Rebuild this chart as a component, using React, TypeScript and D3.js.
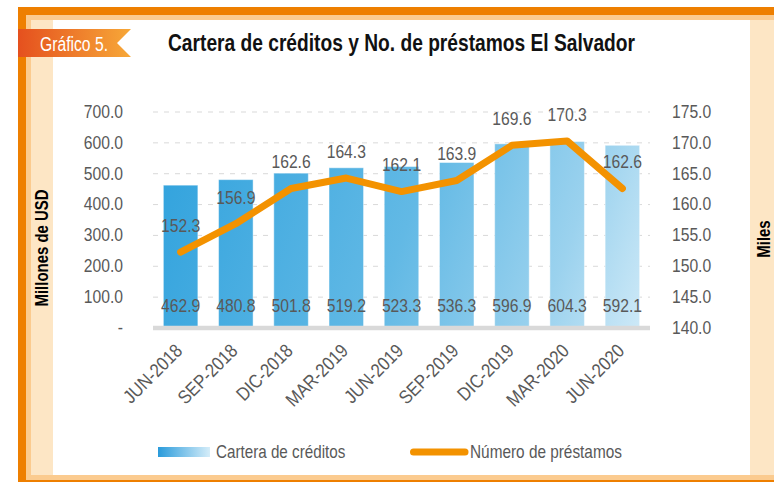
import React from "react";
import * as d3 from "d3";

const categories = ["JUN-2018", "SEP-2018", "DIC-2018", "MAR-2019", "JUN-2019", "SEP-2019", "DIC-2019", "MAR-2020", "JUN-2020"];
const cartera = [462.9, 480.8, 501.8, 519.2, 523.3, 536.3, 596.9, 604.3, 592.1];
const prestamos = [152.3, 156.9, 162.6, 164.3, 162.1, 163.9, 169.6, 170.3, 162.6];
const leftTicks = [0, 100, 200, 300, 400, 500, 600, 700];
const rightTicks = [140, 145, 150, 155, 160, 165, 170, 175];

const W = 774;
const H = 482;
const FONT = "'Liberation Sans', Arial, sans-serif";
const GRAY = "#595959";
const ORANGE = "#F39200";
const NARROW = 0.85;

type TProps = {
  x: number;
  y: number;
  rot?: number;
  sx?: number;
  children: React.ReactNode;
  [k: string]: any;
};

function T({ x, y, rot = 0, sx = NARROW, children, ...rest }: TProps) {
  return (
    <text transform={`translate(${x},${y}) rotate(${rot}) scale(${sx},1)`} {...rest}>
      {children}
    </text>
  );
}

export default function App() {
  const x = d3.scaleBand<string>().domain(categories).range([153, 650]).paddingInner(0.375).paddingOuter(0.1875);
  const yL = d3.scaleLinear().domain([0, 700]).range([328, 112]);
  const yR = d3.scaleLinear().domain([140, 175]).range([328, 112]);
  const fmt = d3.format(".1f");
  const cx = (c: string) => (x(c) as number) + x.bandwidth() / 2;
  const line = d3
    .line<number>()
    .x((_, i) => cx(categories[i]))
    .y((d) => yR(d));

  return (
    <svg width={W} height={H} style={{ position: "absolute", left: 0, top: 0 }} fontFamily={FONT}>
      <defs>
        <linearGradient id="barGrad" gradientUnits="userSpaceOnUse" x1={153} y1={150} x2={650} y2={330}>
          <stop offset="0" stopColor="#30A2DD" />
          <stop offset="0.5" stopColor="#62B9E5" />
          <stop offset="0.8" stopColor="#9BD2EE" />
          <stop offset="1" stopColor="#D2EBF8" />
        </linearGradient>
        <linearGradient id="legGrad" x1="0" y1="0" x2="1" y2="0">
          <stop offset="0" stopColor="#2A9BDB" />
          <stop offset="1" stopColor="#D5EDF9" />
        </linearGradient>
        <linearGradient id="ribbon" x1="0" y1="0" x2="1" y2="0">
          <stop offset="0" stopColor="#E5501E" />
          <stop offset="1" stopColor="#F7A838" />
        </linearGradient>
      </defs>
      <rect x={0} y={0} width={W} height={H} fill="#fff" />
      {/* frame */}
      <rect x={18} y={15} width={W - 18} height={5} fill="#FBCB8F" />
      <rect x={26} y={15} width={5} height={465} fill="#FBCB8F" />
      <rect x={31} y={20} width={22} height={455} fill="#FDE6C5" />
      <rect x={750} y={20} width={24} height={455} fill="#FDE6C5" />
      <rect x={26} y={475} width={W - 26} height={5} fill="#FBCB8F" />
      <rect x={18} y={480} width={W - 18} height={2} fill="#EE7F00" />
      <rect x={18} y={7} width={W - 18} height={8} fill="#EE7F00" />
      <rect x={18} y={7} width={8} height={475} fill="#EE7F00" />

      {/* ribbon */}
      <polygon points="18,29 131,29 117,43 131,57 18,57" fill="url(#ribbon)" />
      <text x={40} y={51} fill="#fff" fontSize={19.5} textLength={68} lengthAdjust="spacingAndGlyphs">
        Gráfico 5.
      </text>
      <text x={168} y={51} fill="#111" fontSize={23} fontWeight="bold" textLength={467} lengthAdjust="spacingAndGlyphs">
        Cartera de créditos y No. de préstamos El Salvador
      </text>

      {/* gridlines */}
      {leftTicks.slice(1).map((t) => (
        <line key={t} x1={153} x2={650} y1={yL(t)} y2={yL(t)} stroke="#D9D9D9" strokeWidth={1} strokeDasharray="5,6" />
      ))}

      {/* bars */}
      {categories.map((c, i) => (
        <rect
          key={c}
          x={x(c)}
          y={yL(cartera[i])}
          width={x.bandwidth()}
          height={yL(0) - yL(cartera[i])}
          fill="url(#barGrad)"
          stroke="#ffffff"
          strokeOpacity={0.45}
          strokeWidth={1}
        />
      ))}
      <line x1={153} x2={650} y1={328} y2={328} stroke="#D9D9D9" strokeWidth={4.5} />

      {/* bar labels */}
      {categories.map((c, i) => (
        <T key={c} x={cx(c)} y={306} sx={0.87} textAnchor="middle" dominantBaseline="central" fontSize={18} fill={GRAY}>
          {fmt(cartera[i])}
        </T>
      ))}

      {/* line */}
      <path d={line(prestamos) as string} fill="none" stroke={ORANGE} strokeWidth={7} strokeLinejoin="round" strokeLinecap="round" />
      {categories.map((c, i) => (
        <T key={c} x={cx(c)} y={yR(prestamos[i]) - 26} sx={0.87} textAnchor="middle" dominantBaseline="central" fontSize={18} fill={GRAY}>
          {fmt(prestamos[i])}
        </T>
      ))}

      {/* left axis */}
      {leftTicks.map((t) => (
        <T key={t} x={123} y={yL(t)} sx={0.87} textAnchor="end" dominantBaseline="central" fontSize={18} fill={GRAY}>
          {t === 0 ? "-" : fmt(t)}
        </T>
      ))}
      {/* right axis */}
      {rightTicks.map((t) => (
        <T key={t} x={672} y={yR(t)} sx={0.87} textAnchor="start" dominantBaseline="central" fontSize={18} fill={GRAY}>
          {fmt(t)}
        </T>
      ))}

      {/* x labels */}
      {categories.map((c) => (
        <T key={c} x={cx(c) + 3} y={352} rot={-45} sx={0.87} textAnchor="end" fontSize={19} fill={GRAY}>
          {c}
        </T>
      ))}

      {/* axis titles */}
      <T x={48} y={248} rot={-90} sx={0.83} textAnchor="middle" fontSize={18} fontWeight="bold" fill="#000">
        Millones de USD
      </T>
      <T x={770} y={239} rot={-90} sx={0.83} textAnchor="middle" fontSize={18} fontWeight="bold" fill="#000">
        Miles
      </T>

      {/* legend */}
      <rect x={158} y={447} width={52} height={10} fill="url(#legGrad)" />
      <T x={216} y={457.5} sx={0.845} fontSize={18} fill={GRAY}>
        Cartera de créditos
      </T>
      <line x1={413.5} x2={465} y1={452} y2={452} stroke={ORANGE} strokeWidth={7} strokeLinecap="round" />
      <T x={470} y={457.5} sx={0.854} fontSize={18} fill={GRAY}>
        Número de préstamos
      </T>
    </svg>
  );
}
